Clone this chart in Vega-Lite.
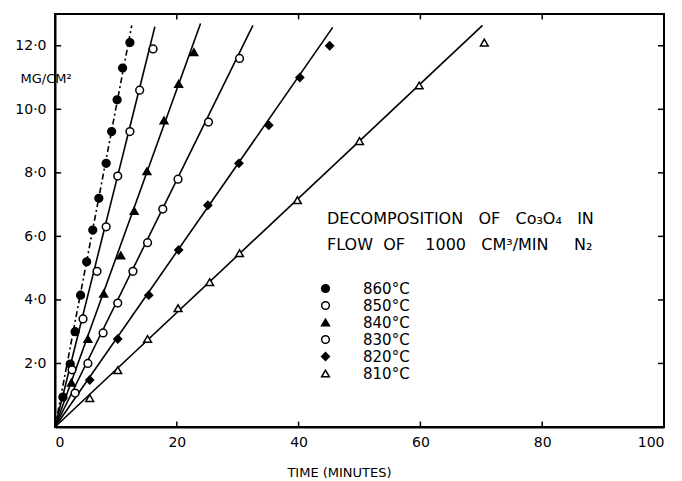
{
  "$schema": "https://vega.github.io/schema/vega-lite/v6.json",
  "width": 609,
  "height": 413,
  "autosize": {"type": "none"},
  "padding": {"left": 55, "top": 14, "right": 18, "bottom": 54},
  "background": "white",
  "config": {
    "view": {"stroke": "black", "strokeWidth": 2},
    "font": "DejaVu Sans",
    "axis": {
      "grid": false,
      "ticks": false,
      "domainColor": "black",
      "domainWidth": 2,
      "labelColor": "black",
      "labelFont": "DejaVu Sans",
      "labelFontSize": 14,
      "titleColor": "black",
      "titleFont": "DejaVu Sans",
      "titleFontWeight": "normal"
    }
  },
  "datasets": {
    "points": [
      {"series": "860°C", "t": 1.3, "w": 0.94},
      {"series": "860°C", "t": 2.5, "w": 1.98},
      {"series": "860°C", "t": 3.3, "w": 3.0},
      {"series": "860°C", "t": 4.2, "w": 4.15},
      {"series": "860°C", "t": 5.2, "w": 5.2},
      {"series": "860°C", "t": 6.2, "w": 6.2},
      {"series": "860°C", "t": 7.2, "w": 7.2},
      {"series": "860°C", "t": 8.4, "w": 8.3},
      {"series": "860°C", "t": 9.3, "w": 9.3},
      {"series": "860°C", "t": 10.2, "w": 10.3},
      {"series": "860°C", "t": 11.1, "w": 11.3},
      {"series": "860°C", "t": 12.3, "w": 12.1},
      {"series": "850°C", "t": 2.8, "w": 1.8},
      {"series": "850°C", "t": 4.6, "w": 3.4},
      {"series": "850°C", "t": 6.9, "w": 4.9},
      {"series": "850°C", "t": 8.4, "w": 6.3},
      {"series": "850°C", "t": 10.3, "w": 7.9},
      {"series": "850°C", "t": 12.3, "w": 9.3},
      {"series": "850°C", "t": 13.9, "w": 10.6},
      {"series": "850°C", "t": 16.1, "w": 11.9},
      {"series": "840°C", "t": 2.7, "w": 1.4},
      {"series": "840°C", "t": 5.4, "w": 2.77},
      {"series": "840°C", "t": 8.0, "w": 4.2},
      {"series": "840°C", "t": 10.8, "w": 5.4},
      {"series": "840°C", "t": 13.0, "w": 6.8},
      {"series": "840°C", "t": 15.1, "w": 8.05},
      {"series": "840°C", "t": 17.9, "w": 9.65},
      {"series": "840°C", "t": 20.3, "w": 10.8},
      {"series": "840°C", "t": 22.8, "w": 11.8},
      {"series": "830°C", "t": 3.3, "w": 1.07},
      {"series": "830°C", "t": 5.4, "w": 2.0},
      {"series": "830°C", "t": 7.9, "w": 2.96},
      {"series": "830°C", "t": 10.3, "w": 3.9},
      {"series": "830°C", "t": 12.8, "w": 4.9},
      {"series": "830°C", "t": 15.2, "w": 5.8},
      {"series": "830°C", "t": 17.7, "w": 6.86},
      {"series": "830°C", "t": 20.2, "w": 7.8},
      {"series": "830°C", "t": 25.2, "w": 9.6},
      {"series": "830°C", "t": 30.3, "w": 11.6},
      {"series": "820°C", "t": 5.7, "w": 1.48},
      {"series": "820°C", "t": 10.3, "w": 2.77},
      {"series": "820°C", "t": 15.4, "w": 4.15},
      {"series": "820°C", "t": 20.3, "w": 5.57},
      {"series": "820°C", "t": 25.1, "w": 6.98},
      {"series": "820°C", "t": 30.2, "w": 8.3},
      {"series": "820°C", "t": 35.1, "w": 9.5},
      {"series": "820°C", "t": 40.2, "w": 11.0},
      {"series": "820°C", "t": 45.1, "w": 12.0},
      {"series": "810°C", "t": 5.7, "w": 0.91},
      {"series": "810°C", "t": 10.3, "w": 1.79},
      {"series": "810°C", "t": 15.2, "w": 2.77},
      {"series": "810°C", "t": 20.2, "w": 3.74},
      {"series": "810°C", "t": 25.4, "w": 4.56},
      {"series": "810°C", "t": 30.3, "w": 5.47},
      {"series": "810°C", "t": 39.8, "w": 7.14},
      {"series": "810°C", "t": 50.0, "w": 9.0},
      {"series": "810°C", "t": 59.8, "w": 10.75},
      {"series": "810°C", "t": 70.5, "w": 12.1}
    ],
    "lines": [
      {"series": "860°C", "t": 0, "w": 0},
      {"series": "860°C", "t": 12.6, "w": 12.64},
      {"series": "850°C", "t": 0, "w": 0},
      {"series": "850°C", "t": 16.4, "w": 12.6},
      {"series": "840°C", "t": 0, "w": 0},
      {"series": "840°C", "t": 23.9, "w": 12.7},
      {"series": "830°C", "t": 0, "w": 0},
      {"series": "830°C", "t": 32.5, "w": 12.64},
      {"series": "820°C", "t": 0, "w": 0},
      {"series": "820°C", "t": 45.6, "w": 12.58},
      {"series": "810°C", "t": 0, "w": 0},
      {"series": "810°C", "t": 70.2, "w": 12.64}
    ],
    "xticks": [{"v": 20}, {"v": 40}, {"v": 60}, {"v": 80}],
    "yticks": [{"v": 2}, {"v": 4}, {"v": 6}, {"v": 8}, {"v": 10}, {"v": 12}]
  },
  "layer": [
    {
      "data": {"name": "lines"},
      "transform": [{"filter": "datum.series !== '860°C'"}],
      "mark": {"type": "line", "color": "black", "strokeWidth": 1.6},
      "encoding": {
        "x": {"field": "t", "type": "quantitative", "scale": {"domain": [0, 100], "nice": false},
              "axis": {"orient": "bottom", "values": [0, 20, 40, 60, 80, 100], "format": "d", "labelPadding": 8,
                       "title": "TIME (MINUTES)", "titleFontSize": 13, "titleX": 284, "titleY": 45, "titleBaseline": "middle", "titleAlign": "center"}},
        "y": {"field": "w", "type": "quantitative", "scale": {"domain": [0, 13], "nice": false},
              "axis": {"orient": "left", "values": [2, 4, 6, 8, 10, 12], "labelPadding": 9,
                       "labelExpr": "replace(format(datum.value, '.1f'), '.', '·')",
                       "title": "MG/CM²", "titleFontSize": 13, "titleAngle": 0, "titleAlign": "left", "titleBaseline": "middle",
                       "titleX": -35, "titleY": 64}},
        "detail": {"field": "series"}
      }
    },
    {
      "data": {"name": "lines"},
      "transform": [{"filter": "datum.series === '860°C'"}],
      "mark": {"type": "line", "color": "black", "strokeWidth": 1.6, "strokeDash": [6, 3, 2, 3]},
      "encoding": {
        "x": {"field": "t", "type": "quantitative"},
        "y": {"field": "w", "type": "quantitative"}
      }
    },
    {
      "data": {"name": "xticks"},
      "mark": {"type": "rule", "color": "black", "strokeWidth": 1.5},
      "encoding": {"x": {"field": "v", "type": "quantitative"}, "y": {"datum": 0, "type": "quantitative"}, "y2": {"datum": 0.17}}
    },
    {
      "data": {"name": "xticks"},
      "mark": {"type": "rule", "color": "black", "strokeWidth": 1.5},
      "encoding": {"x": {"field": "v", "type": "quantitative"}, "y": {"datum": 13, "type": "quantitative"}, "y2": {"datum": 12.83}}
    },
    {
      "data": {"name": "yticks"},
      "mark": {"type": "rule", "color": "black", "strokeWidth": 1.5},
      "encoding": {"y": {"field": "v", "type": "quantitative"}, "x": {"datum": 0, "type": "quantitative"}, "x2": {"datum": 1.0}}
    },
    {
      "data": {"name": "yticks"},
      "mark": {"type": "rule", "color": "black", "strokeWidth": 1.5},
      "encoding": {"y": {"field": "v", "type": "quantitative"}, "x": {"datum": 100, "type": "quantitative"}, "x2": {"datum": 99.0}}
    },
    {
      "data": {"name": "points"},
      "mark": {"type": "point", "filled": false, "strokeWidth": 1.5, "size": 60, "opacity": 1},
      "encoding": {
        "x": {"field": "t", "type": "quantitative"},
        "y": {"field": "w", "type": "quantitative"},
        "shape": {"field": "series", "type": "nominal",
                  "scale": {"domain": ["860°C", "850°C", "840°C", "830°C", "820°C", "810°C"],
                            "range": ["circle", "circle", "triangle-up", "circle", "diamond", "triangle-up"]},
                  "legend": {"title": ["DECOMPOSITION\u00a0\u00a0\u00a0OF\u00a0\u00a0\u00a0Co₃O₄\u00a0\u00a0\u00a0IN", "FLOW\u00a0\u00a0OF\u00a0\u00a0\u00a0\u00a01000\u00a0\u00a0\u00a0CM³/MIN\u00a0\u00a0\u00a0\u00a0\u00a0N₂"],
                             "orient": "none", "legendX": 272, "legendY": 197, "zindex": 1,
                             "titleFont": "DejaVu Sans", "titleFontSize": 16, "titleFontWeight": "normal", "titleColor": "black",
                             "titleLineHeight": 26, "titlePadding": 28, "titleLimit": 420,
                             "labelFont": "DejaVu Sans", "labelFontSize": 15, "labelColor": "black", "labelOffset": 30,
                             "symbolSize": 60, "symbolOffset": -9, "symbolStrokeWidth": 1.5, "rowPadding": 1}},
        "fill": {"field": "series", "type": "nominal",
                 "scale": {"domain": ["860°C", "850°C", "840°C", "830°C", "820°C", "810°C"],
                           "range": ["black", "white", "black", "white", "black", "white"]},
                 "legend": {"title": ["DECOMPOSITION\u00a0\u00a0\u00a0OF\u00a0\u00a0\u00a0Co₃O₄\u00a0\u00a0\u00a0IN", "FLOW\u00a0\u00a0OF\u00a0\u00a0\u00a0\u00a01000\u00a0\u00a0\u00a0CM³/MIN\u00a0\u00a0\u00a0\u00a0\u00a0N₂"],
                            "orient": "none", "legendX": 272, "legendY": 197, "zindex": 1,
                            "titleFont": "DejaVu Sans", "titleFontSize": 16, "titleFontWeight": "normal", "titleColor": "black",
                            "titleLineHeight": 26, "titlePadding": 28, "titleLimit": 420,
                            "labelFont": "DejaVu Sans", "labelFontSize": 15, "labelColor": "black", "labelOffset": 30,
                            "symbolSize": 60, "symbolOffset": -9, "symbolStrokeWidth": 1.5, "rowPadding": 1}},
        "stroke": {"field": "series", "type": "nominal",
                   "scale": {"domain": ["860°C", "850°C", "840°C", "830°C", "820°C", "810°C"],
                             "range": ["black", "black", "black", "black", "black", "black"]},
                   "legend": {"title": ["DECOMPOSITION\u00a0\u00a0\u00a0OF\u00a0\u00a0\u00a0Co₃O₄\u00a0\u00a0\u00a0IN", "FLOW\u00a0\u00a0OF\u00a0\u00a0\u00a0\u00a01000\u00a0\u00a0\u00a0CM³/MIN\u00a0\u00a0\u00a0\u00a0\u00a0N₂"],
                              "orient": "none", "legendX": 272, "legendY": 197, "zindex": 1,
                              "titleFont": "DejaVu Sans", "titleFontSize": 16, "titleFontWeight": "normal", "titleColor": "black",
                              "titleLineHeight": 26, "titlePadding": 28, "titleLimit": 420,
                              "labelFont": "DejaVu Sans", "labelFontSize": 15, "labelColor": "black", "labelOffset": 30,
                              "symbolSize": 60, "symbolOffset": -9, "symbolStrokeWidth": 1.5, "rowPadding": 1}}
      }
    }
  ]
}
